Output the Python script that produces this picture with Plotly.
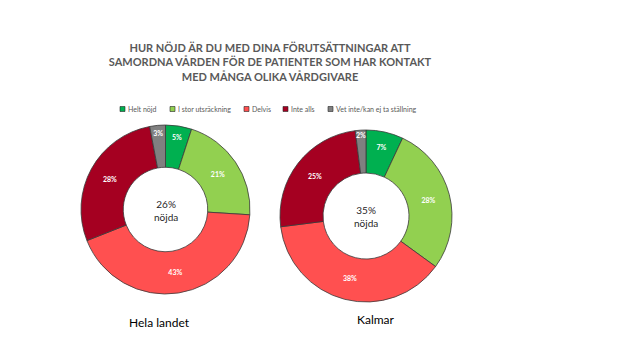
import plotly.graph_objects as go

categories = ["Helt nöjd", "I stor utsräckning", "Delvis", "Inte alls", "Vet inte/kan ej ta ställning"]
hela_landet = [5, 21, 43, 28, 3]
kalmar = [7, 28, 38, 25, 2]
group_names = ["Hela landet", "Kalmar"]
colors = ["#00B050", "#92D050", "#FF5050", "#A50021", "#808080"]
title_text = ("HUR NÖJD ÄR DU MED DINA FÖRUTSÄTTNINGAR ATT<br>"
              "SAMORDNA VÅRDEN FÖR DE PATIENTER SOM HAR KONTAKT<br>"
              "MED MÅNGA OLIKA VÅRDGIVARE")

FONT = "Lato"
W, H = 640, 360

def px_dom(x0, x1, y0, y1):
    return dict(x=[x0 / W, x1 / W], y=[1 - y1 / H, 1 - y0 / H])

domains = [px_dom(81, 250, 125, 294), px_dom(280, 452, 130, 302)]

fig = go.Figure()
for i, (name, vals) in enumerate(zip(group_names, [hela_landet, kalmar])):
    fig.add_trace(go.Pie(
        labels=categories, values=vals, name=name,
        domain=domains[i], hole=0.5, sort=False, direction="clockwise", rotation=0,
        marker=dict(colors=colors, line=dict(color="#3a3a3a", width=0.8)),
        texttemplate="%{value}%", textposition="inside", insidetextorientation="horizontal",
        textfont=dict(family=FONT, size=7, color="white", weight="bold"),
        showlegend=False, hoverinfo="label+value",
    ))

annotations = []
shapes = []
centers = [((81 + 250) / 2, 210), ((280 + 452) / 2, 216)]
for (cx, cy), vals in zip(centers, [hela_landet, kalmar]):
    annotations.append(dict(x=cx / W, y=1 - cy / H, xref="paper", yref="paper",
                            xanchor="center", yanchor="middle",
                            text=f"{vals[0] + vals[1]}%<br>nöjda", showarrow=False,
                            font=dict(family=FONT, size=10, color="#262626")))
label_pos = [(159, 322), (376, 319)]
for (lx, ly), name in zip(label_pos, group_names):
    annotations.append(dict(x=lx / W, y=1 - ly / H, xref="paper", yref="paper",
                            xanchor="center", yanchor="middle",
                            text=name, showarrow=False,
                            font=dict(family=FONT, size=12, color="#000000")))

# legend
legend_x = [120, 170, 244, 283, 328]
legend_y = 109
for lx, cat, col in zip(legend_x, categories, colors):
    shapes.append(dict(type="rect", xref="paper", yref="paper",
                       x0=lx / W, x1=(lx + 5) / W,
                       y0=1 - (legend_y + 2.5) / H, y1=1 - (legend_y - 2.5) / H,
                       fillcolor=col, line=dict(color="#262626", width=0.6)))
    annotations.append(dict(x=(lx + 6) / W, y=1 - legend_y / H, xref="paper", yref="paper",
                            xanchor="left", yanchor="middle", text=cat, showarrow=False,
                            font=dict(family=FONT, size=7, color="#595959")))

fig.update_layout(
    width=W, height=H, margin=dict(l=0, r=0, t=0, b=0),
    paper_bgcolor="white", plot_bgcolor="white",
    title=dict(text=title_text, x=270 / W, xanchor="center", y=1 - 52 / H, yanchor="top",
               font=dict(family=FONT, size=11, color="#595959", weight="bold")),
    showlegend=False,
    uniformtext=dict(minsize=7, mode="show"),
    annotations=annotations,
    shapes=shapes,
)

fig.write_html("out.html", config={"displayModeBar": False},
               post_script="document.body.style.margin='0';")
